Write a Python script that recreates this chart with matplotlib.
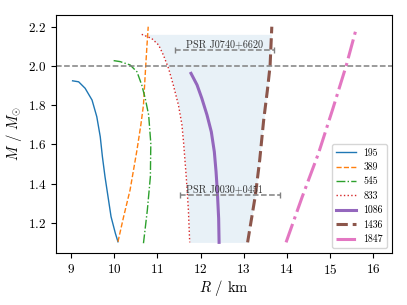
import numpy as np
import matplotlib
matplotlib.use('Agg')
import matplotlib.pyplot as plt

plt.rcParams['font.family'] = ['cmr10', 'DejaVu Serif']
plt.rcParams['mathtext.fontset'] = 'cm'
plt.rcParams['axes.formatter.use_mathtext'] = True

# mass-radius curves
r_195 = [9.04, 9.18, 9.33, 9.49, 9.60, 9.68, 9.73, 9.79, 9.86, 9.93, 10.03, 10.09]
m_195 = [1.924, 1.919, 1.886, 1.826, 1.741, 1.639, 1.537, 1.435, 1.333, 1.231, 1.146, 1.103]

r_389 = [10.09, 10.22, 10.37, 10.53, 10.62, 10.68, 10.72, 10.76, 10.79]
m_389 = [1.103, 1.230, 1.367, 1.571, 1.700, 1.800, 1.954, 2.100, 2.200]

r_545 = [9.99, 10.14, 10.37, 10.53, 10.64, 10.72, 10.80, 10.85, 10.84, 10.77, 10.68]
m_545 = [2.027, 2.022, 2.005, 1.970, 1.903, 1.835, 1.750, 1.605, 1.435, 1.265, 1.095]

r_833 = [10.64, 10.87, 11.03, 11.14, 11.26, 11.37, 11.49, 11.57, 11.61, 11.67, 11.72, 11.75]
m_833 = [2.161, 2.140, 2.107, 2.056, 1.988, 1.903, 1.800, 1.700, 1.605, 1.435, 1.265, 1.100]

r_1086 = [11.78, 11.92, 12.03, 12.15, 12.25, 12.32, 12.36, 12.39, 12.42, 12.43]
m_1086 = [1.962, 1.903, 1.835, 1.750, 1.664, 1.562, 1.460, 1.358, 1.222, 1.100]

r_1436 = [13.09, 13.18, 13.27, 13.37, 13.46, 13.55, 13.61, 13.65]
m_1436 = [1.100, 1.220, 1.340, 1.520, 1.720, 1.880, 2.000, 2.200]

r_1847 = [13.98, 14.35, 14.73, 15.06, 15.37, 15.60]
m_1847 = [1.100, 1.330, 1.554, 1.780, 2.000, 2.187]

labels = ['195', '389', '545', '833', '1086', '1436', '1847']

# NICER measurements
psr_names = ['PSR J0740+6620', 'PSR J0030+0451']
psr_r = [12.39, 12.71]
psr_m = [2.08, 1.34]
psr_lo = [0.98, 1.19]
psr_hi = [1.30, 1.14]

fig = plt.figure(figsize=(4.07, 3.05), dpi=100)
ax = fig.add_axes([0.138, 0.170, 0.825, 0.781])

curves = [(r_195, m_195), (r_389, m_389), (r_545, m_545), (r_833, m_833),
          (r_1086, m_1086), (r_1436, m_1436), (r_1847, m_1847)]
styles = ['-', '--', '-.', ':', '-', '--', '-.']
widths = [1.0, 1.0, 1.0, 1.0, 2.2, 2.2, 2.2]

for i, (r, m) in enumerate(curves):
    ax.plot(r, m, color='C%d' % i, ls=styles[i], lw=widths[i], label=labels[i])

# shaded band between 833 and 1436 curves
m_fill = np.array(m_833)[::-1]
r_left = np.array(r_833)[::-1]
r_right = np.interp(m_fill, m_1436, r_1436)
ax.fill_betweenx(m_fill, r_left, r_right, color='C0', alpha=0.1, lw=0)

ax.axhline(2.0, color='gray', ls='--', lw=1.1)

for k in range(2):
    eb = ax.errorbar(psr_r[k], psr_m[k], xerr=[[psr_lo[k]], [psr_hi[k]]],
                     fmt='none', ecolor='gray', elinewidth=1.1, capsize=2)
    eb[2][0].set_linestyle('--')
    ax.text(12.55, psr_m[k] + 0.004, psr_names[k], ha='center', va='bottom',
            fontsize=7.3, color='#333333')

ax.set_xlim(8.66, 16.43)
ax.set_ylim(1.045, 2.26)
ax.set_xticks(range(9, 17))
ax.set_yticks([1.2, 1.4, 1.6, 1.8, 2.0, 2.2])
ax.tick_params(labelsize=9.5)
ax.set_xlabel(r'$R$ / km', fontsize=10.5, labelpad=1)
ax.set_ylabel(r'$M$ / $M_{\odot}$', fontsize=10.5, labelpad=3)
ax.legend(loc='lower right', fontsize=7.1)

plt.savefig('out.png')
